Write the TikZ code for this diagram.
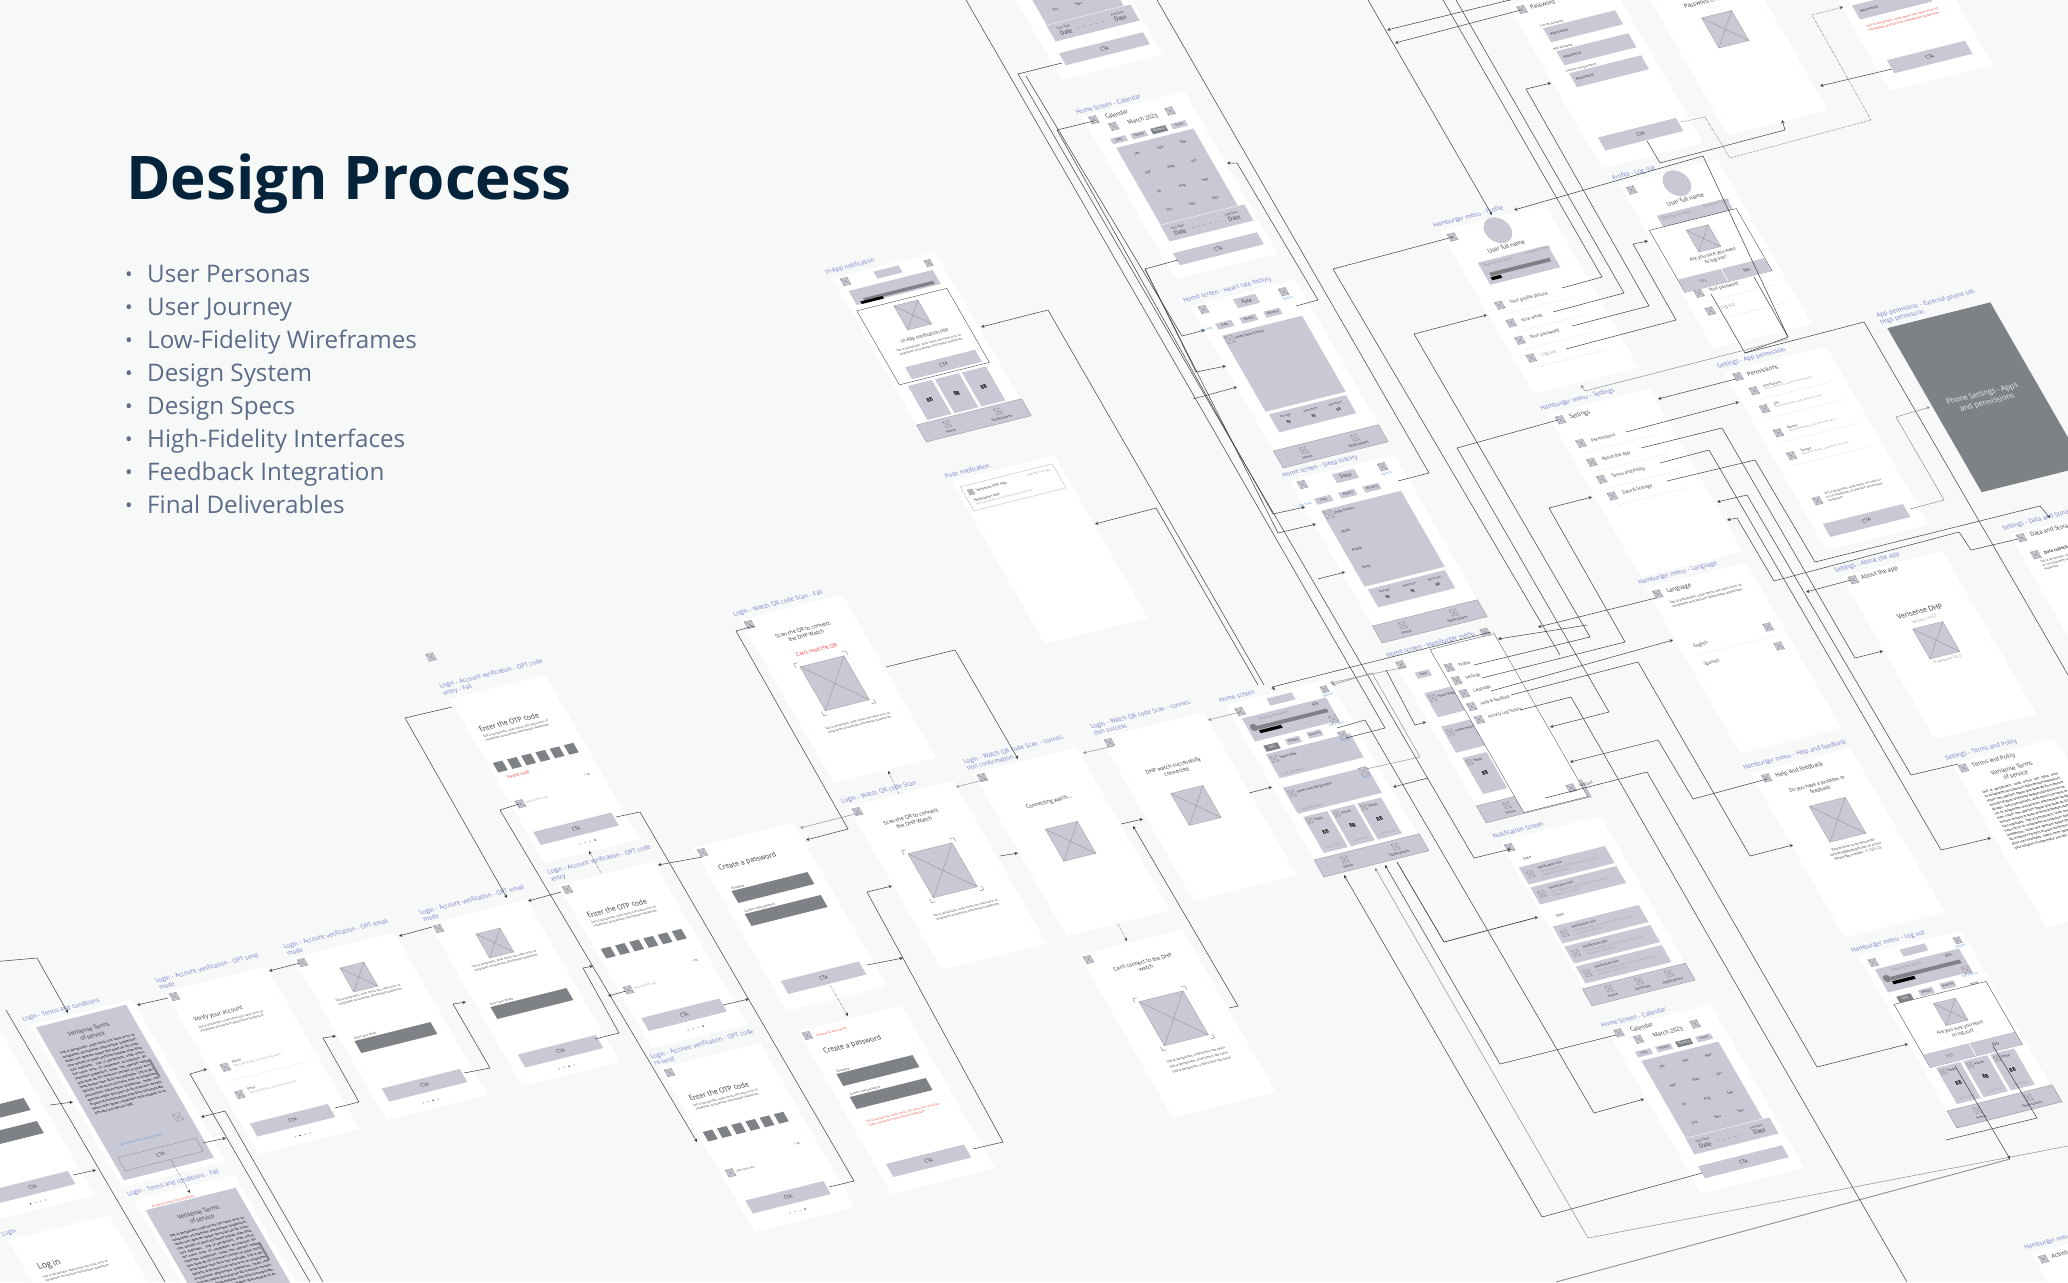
\documentclass[tikz,border=0pt]{standalone}
\usepackage{fontspec}
\setmainfont{Open Sans}
\usetikzlibrary{arrows.meta}
\definecolor{pagec}{HTML}{F7F9F8}
\definecolor{barc}{HTML}{C9C9D6}
\definecolor{darkc}{HTML}{7E8287}
\definecolor{labelc}{HTML}{7478CE}
\definecolor{redc}{HTML}{F0463E}
\definecolor{linkc}{HTML}{4F8FD8}
\definecolor{inkc}{HTML}{3A3B40}
\definecolor{titlec}{HTML}{05233A}
\definecolor{listc}{HTML}{5C6C88}
\definecolor{wirec}{HTML}{3C3F42}
\definecolor{wiregc}{HTML}{8C9093}
\tikzset{
  scrbox/.style ={fill=white, inner sep=0pt, transform shape},
  scrlbl/.style ={anchor=south west, inner sep=0pt, align=left, text width=106pt, text=labelc,
                  font=\fontsize{5.6}{6.6}\selectfont, transform shape},
  wfont/.style  ={anchor=west, inner sep=0pt, text=inkc, align=left,
                  font=\fontsize{3.4}{4.2}\selectfont, transform shape},
  ttl/.style    ={font=\fontsize{6.6}{8}\selectfont},
  hdr/.style    ={font=\fontsize{5.4}{6.6}\selectfont},
  mid/.style    ={anchor=center, align=center},
  red/.style    ={text=redc},
  lnk/.style    ={text=linkc},
  gry/.style    ={text=gray!80},
  wbar/.style   ={fill=barc, inner sep=0pt, anchor=center, text=inkc, align=center,
                  font=\fontsize{4.6}{5.6}\selectfont, transform shape},
  dark/.style   ={fill=darkc},
  nav/.style    ={draw=darkc, line width=.25pt},
  xbox/.style   ={fill=barc, draw=gray!90, line width=.2pt, inner sep=0pt, transform shape},
  xline/.style  ={draw=gray!90, line width=.3pt},
  brk/.style    ={draw=darkc, line width=.4pt},
  rowln/.style  ={draw=barc!60, line width=.25pt},
  dlgbox/.style ={fill=white, draw=wirec, line width=.35pt, inner sep=0pt, anchor=north west, transform shape},
  flow/.style   ={draw=wirec, line width=.5pt, -{Stealth[length=3.4pt,width=3.2pt]}},
  gflow/.style  ={draw=wiregc, line width=.5pt, -{Stealth[length=3.4pt,width=3.2pt]}},
  dflow/.style  ={draw=wirec, line width=.5pt, densely dotted, -{Stealth[length=3.4pt,width=3.2pt]}},
  noarr/.style  ={arrows=-},
}
\newcounter{nid}
\newcommand{\lorem}{Sed ut perspiciatis, unde omnis iste natus error sit voluptatem accusantium doloremque laudantium}
\newcommand{\denselorem}{\lorem, totam rem aperiam eaque ipsa quae ab illo inventore veritatis et quasi architecto beatae vitae dicta sunt explicabo. \lorem, totam rem aperiam eaque ipsa quae ab illo inventore veritatis et quasi architecto beatae vitae dicta sunt explicabo. \lorem, totam rem aperiam eaque ipsa quae ab illo inventore veritatis et quasi architecto beatae vitae dicta sunt explicabo. Nemo enim ipsam voluptatem quia voluptas sit aspernatur aut odit aut fugit.}
% one screen: name, x, y, width, height, label, body
\newcommand{\screen}[7]{%
  \begin{scope}[cm={1,.25,-.575,1,(#2,#3)}]
    \node[scrbox, anchor=north west, minimum width=#4pt, minimum height=#5pt] (#1) at (0,0) {};
    \node[scrlbl] (#1l) at (-3,-3) {#6};
    #7
  \end{scope}}
\newcommand{\wtxt}[4][]{\stepcounter{nid}\node[wfont,#1] (n\arabic{nid}) at ({#2},{#3}) {#4};}
\newcommand{\wbox}[6][]{\stepcounter{nid}\node[wbar,minimum width=#4pt,minimum height=#5pt,#1] (n\arabic{nid}) at ({#2},{#3}) {#6};}
\newcommand{\xb}[3][7]{\stepcounter{nid}\node[xbox,minimum width=#1pt,minimum height=#1pt] (n\arabic{nid}) at ({#2},{#3}) {};
  \draw[xline] (n\arabic{nid}.north west) -- (n\arabic{nid}.south east) (n\arabic{nid}.south west) -- (n\arabic{nid}.north east);}
\newcommand{\wpara}[4][]{\stepcounter{nid}\node[wfont,anchor=north west,text width=#4pt,font=\fontsize{2.7}{3.6}\selectfont,#1] (n\arabic{nid}) at ({#2},{#3}) {\lorem};}
\newcommand{\ctab}[2][51]{\wbox{#1}{#2}{78}{13}{CTA}}
\newcommand{\dotsrow}[2]{\foreach \i in {1,...,4}{\pgfmathsetmacro{\dc}{\i==#2?70:25}\fill[black!\dc] ({36+5*\i},#1) circle (.8pt);}}
\newcommand{\qrmarks}[3]{\foreach \sx/\sy in {-1/-1,1/-1,1/1,-1/1}
  \draw[brk] ({#1+\sx*#3},{#2+\sy*(#3-4)}) -- ({#1+\sx*#3},{#2+\sy*#3}) -- ({#1+\sx*(#3-4)},{#2+\sy*#3});}
\newcommand{\otpface}{\wtxt[ttl]{10}{33}{Enter the OTP code}\wpara{10}{39}{72}
  \foreach \i in {0,...,5}{\wbox[dark]{10+14.2*\i}{70}{9.5}{9.5}{}}
  \wtxt[font=\fontsize{2.6}{3}\selectfont]{79}{96}{1:30}}
\newcommand{\fieldface}[3]{\wtxt[font=\fontsize{2.8}{3}\selectfont]{13}{#1-8}{#3}\wbox[dark]{#2}{#1}{76}{12}{}}
\newcommand{\navbar}[2]{\wbox[nav]{#2/2}{#1+8.5}{#2}{17}{}\xb[6]{27}{#1+6}\wtxt[mid]{27}{#1+12.5}{Home}
  \xb[6]{#2-27}{#1+6}\wtxt[mid]{#2-27}{#1+12.5}{Notifications}}
\newcommand{\termsface}[1]{\wbox{50}{80+#1/2}{90}{153-#1}{}
  \wtxt[mid,hdr]{50}{20+#1}{Verisense Terms\\of service}
  \stepcounter{nid}\node[wfont,anchor=north west,text width=74pt,align=justify,font=\fontsize{3.1}{4.3}\selectfont,text=black] (n\arabic{nid}) at (13,{30+#1}) {\denselorem};
  \wbox[dark]{88}{65+#1}{2}{18}{}\xb{84}{113+#1}\wtxt[lnk,mid,font=\fontsize{2.6}{3}\selectfont]{40}{125+#1}{I agree to the Terms and Conditions}}
\newcommand{\rowitem}[4]{\xb{#1}{#2}\wtxt[hdr,font=\fontsize{4.2}{5}\selectfont,#4]{#1+10}{#2}{#3}\draw[rowln] (#1,#2+9) -- (#1+70,#2+9);}
\newcommand{\permrow}[2]{\xb{17}{#1}\wtxt[font=\fontsize{3}{3.6}\selectfont]{27}{#1-2}{#2}\wtxt[gry,font=\fontsize{2.4}{3}\selectfont]{27}{#1+1}{Sed ut perspiciatis, unde omnis iste natus}\draw[rowln] (14,#1+9) -- (90,#1+9);}
\newcommand{\dialog}[4]{\node[dlgbox,minimum width=#3pt,minimum height=#4pt] (dlg\arabic{nid}) at (#1,#2) {};
  \xb[22]{#1+#3/2}{#2+19}\wtxt[mid,font=\fontsize{4.4}{5.4}\selectfont]{#1+#3/2}{#2+38}{Are you sure you want\\to log out?}
  \wbox{#1+#3/4}{#2+#4-6}{#3/2-1}{13}{\textcolor{gray}{Yes}}\wbox{#1+3*#3/4}{#2+#4-6}{#3/2-1}{13}{No}}
\newcommand{\homeface}{\xb{10}{9}\wbox{52}{7}{25}{7}{}\xb[6]{95}{8}\wtxt[lnk,mid,font=\fontsize{2.8}{3}\selectfont]{95}{14}{Options}
  \wbox{50}{27}{84}{23}{}\wtxt[gry]{22}{20}{Wearing the watch}\wtxt[font=\fontsize{4}{5}\selectfont]{76}{19}{6hr}
  \wbox[dark]{52}{27}{70}{3.5}{}\wbox[fill=black]{28}{31}{22}{3}{}\fill[darkc] (14,26) circle (3.5pt);
  \xb{88}{36}\wtxt[lnk,mid,font=\fontsize{2.6}{3}\selectfont]{88}{41}{Pick a device}
  \wbox[dark,font=\fontsize{3}{4}\selectfont,text=white]{20}{47}{14}{6}{Daily}\wbox[font=\fontsize{3}{4}\selectfont]{42}{46}{14}{6}{Weekly}\wbox[font=\fontsize{3}{4}\selectfont]{64}{45}{14}{6}{Monthly}
  \wbox{53}{64}{84}{24}{}\xb[6]{16}{58}\wtxt{21}{58}{Heart Rate}\wtxt[gry]{15}{73}{Last 24 hours}\xb{88}{52}\wtxt[lnk,mid,font=\fontsize{2.6}{3}\selectfont]{88}{57}{History}
  \wbox{51}{98}{84}{26}{}\xb[6]{14}{92}\wtxt{19}{92}{Heart recordings data}\wtxt[gry]{14}{108}{Last 24 hours}\xb{88}{88}\wtxt[lnk,mid,font=\fontsize{2.6}{3}\selectfont]{88}{94}{History}
  \foreach \c/\t in {24/Steps,51/Active,78/Sleep}{\wbox{\c}{133}{24}{36}{}\xb[5]{\c-8}{120}\wtxt{\c-4}{120}{\t}\wtxt[mid,font=\fontsize{5}{6}\selectfont\bfseries,text=black]{\c}{133}{88}\wtxt[mid,gry,font=\fontsize{2.4}{3}\selectfont]{\c}{147}{Last 24 hours}}
  \navbar{155}{105}}
\newcommand{\histface}[2]{\xb{10}{6}\wbox{52}{8}{22}{9}{#1}\xb{89}{8}\wtxt[lnk,mid,font=\fontsize{2.8}{3}\selectfont]{89}{15}{Options}
  \foreach \c/\t in {21/Daily,45/Weekly,69/Monthly}{\wbox[font=\fontsize{3}{4}\selectfont]{\c}{24}{16}{6}{\t}}
  \wtxt[lnk,font=\fontsize{2.8}{3}\selectfont]{-4}{24}{Info Stack}
  \wbox{53}{71}{80}{76}{}\xb{18}{38}\wtxt{23}{38}{#2}
  \wbox{53}{121}{77}{18}{}\foreach \c/\t in {28/Average,53/Maximum,78/Minimum}{\wtxt[mid,font=\fontsize{2.8}{3.4}\selectfont]{\c}{117}{\t}\wtxt[mid,font=\fontsize{3.6}{4}\selectfont\bfseries]{\c}{123}{88}}
  \navbar{145}{105}}
\newcommand{\calface}{\xb{9}{5}\wtxt[hdr]{20}{5}{Calendar}\xb{23}{15}\wtxt[mid,hdr]{52}{15}{March 2023}\xb{80}{14}
  \foreach \c/\t in {21/Daily,41/Weekly,81/Yearly}{\wbox[font=\fontsize{3}{4}\selectfont]{\c}{28}{15}{5.5}{\t}}
  \wbox[dark,font=\fontsize{3}{4}\selectfont,text=white]{61}{28}{15}{5.5}{Monthly}
  \wbox{53}{73}{77}{77}{}
  \foreach \t/\c/\r in {Jan/30/44,Feb/53/44,Mar/76/44,Apr/30/63,May/53/63,Jun/76/63,Jul/30/82,Aug/53/82,Sep/76/82,Oct/30/100,Nov/53/100,Dec/76/100}{\wtxt[mid]{\c}{\r}{\t}}
  \wbox{56}{120}{84}{16}{}\wtxt[mid,font=\fontsize{2.8}{3.2}\selectfont]{28}{117}{Start Date}\wtxt[mid,hdr]{28}{122}{Date}\wtxt[mid,font=\fontsize{2.8}{3.2}\selectfont]{82}{117}{End Date}\wtxt[mid,hdr]{82}{122}{Date}\draw[brk,dashed,line width=.25pt] (40,121) -- (70,121);
  \wbox{53}{145}{84}{12}{CTA}}
\newcommand{\profileface}{\stepcounter{nid}\node[draw=none,fill=barc,circle,minimum size=25pt,inner sep=0pt,transform shape] (n\arabic{nid}) at (51,12) {};
  \wtxt[mid,hdr]{50}{28}{User full name}\wbox{52}{47}{70}{22}{}\wtxt[gry]{20}{40}{Wearing the watch}\wtxt[gry]{62}{38}{Connected Time}
  \wbox[dark]{52}{49}{60}{3.5}{}\wbox[fill=black]{26}{53}{10}{3}{}
  \rowitem{15}{78}{Your profile picture}{}\rowitem{16}{96}{Your email}{}\rowitem{15}{113}{Your password}{}\rowitem{16}{131}{Log out}{gry}}
% ---- connector: start, end, what lies between
\newcommand{\conn}[4][]{\stepcounter{nid}\coordinate (c\arabic{nid}s) at (#2);\coordinate (c\arabic{nid}e) at (#3);
  \draw[flow,#1] (c\arabic{nid}s) #4 (c\arabic{nid}e);}

\begin{document}
\begin{tikzpicture}[x=1pt,y=-1pt]
\useasboundingbox (0,0) rectangle (2068,1282);
\fill[pagec] (0,0) rectangle (2068,1282);

% ---- heading --------------------------------------------------------
\node[anchor=base west, inner sep=0pt, text=titlec, font=\fontsize{60.2}{70}\selectfont\bfseries] (head) at (126,199) {Design Process};
\foreach \lab [count=\i] in {User Personas,User Journey,Low-Fidelity Wireframes,Design System,Design Specs,High-Fidelity Interfaces,Feedback Integration,Final Deliverables}{
  \node[anchor=base west, inner sep=0pt, text=listc, font=\fontsize{24.2}{30}\selectfont] (item\i) at (147,{282+33*(\i-1)}) {\lab};
  \node[anchor=base, inner sep=0pt, text=listc, font=\fontsize{20}{24}\selectfont] (dot\i) at (129,{281+33*(\i-1)}) {•};
}

\begin{scope}
\clip (0,0) rectangle (2068,1282);

% ---- login flow ------------------------------------------------------
\screen{carousel}{-100}{1058}{101}{162}{}{\fieldface{68}{50}{Email}\fieldface{91}{50}{Password}\ctab{142}\dotsrow{156}{1}}
\screen{login}{8}{1240}{101}{162}{Login}{\wtxt[ttl,font=\fontsize{8}{9}\selectfont]{12}{31}{Log in}\wpara{12}{39}{72}}
\screen{terms}{29}{1025}{103}{162}{Login - Terms and conditions}{\termsface{0}\wbox[fill=none,draw=darkc,line width=.25pt]{50}{142}{78}{13}{CTA}}
\screen{termsfail}{134}{1200}{100}{163}{Login - Terms and conditions - Fail}{\termsface{8}\wtxt[red,font=\fontsize{2.8}{3}\selectfont]{12}{10}{Accept the terms and conditions}}
\screen{otpsend}{165}{992}{101}{162}{Login - Account verification - OPT send mode}{\xb{6}{6}\wtxt[hdr]{11}{31}{Verify your account}\wpara{11}{37}{72}
  \xb{15}{79}\wtxt[font=\fontsize{3}{3.6}\selectfont]{23}{76}{Phone}\wtxt[gry,font=\fontsize{2.4}{3}\selectfont]{23}{80}{Sed ut perspiciatis, unde omnis iste natus}\draw[rowln] (12,92) -- (88,92);
  \xb{14}{106}\wtxt[font=\fontsize{3}{3.6}\selectfont]{23}{103}{Email}\wtxt[gry,font=\fontsize{2.4}{3}\selectfont]{23}{107}{Sed ut perspiciatis, unde omnis iste natus}\ctab[47]{140}\dotsrow{155}{2}}
\screen{emailsend}{293}{958}{101}{162}{Login - Account verification - OPT email mode}{\xb{6}{6}\xb[24]{48}{31}\wpara[mid,text width=70pt]{48}{49}{70}\fieldface{92}{50}{Enter your email}\ctab{140}\dotsrow{155}{3}}
\screen{mode}{429}{924}{97}{162}{Login - Account verification - OPT email mode}{\xb{6}{6}\xb[24]{48}{31}\wpara[mid,text width=70pt]{48}{49}{70}\fieldface{92}{50}{Enter your phone}\ctab{140}\dotsrow{155}{3}}
\screen{otpfail}{450}{699}{95}{164}{Login - Account verification - OPT code entry - Fail}{\otpface\wtxt[red,font=\fontsize{4}{5}\selectfont]{10}{81}{Invalid code}\xb{9}{107}\wtxt[gry,font=\fontsize{2.6}{3}\selectfont]{15}{107}{Resend OTP code}\ctab[45]{141}\dotsrow{155}{4}}
\screen{otp}{558}{885}{95}{163}{Login - Account verification - OPT code entry}{\xb{6}{6}\otpface\xb{9}{107}\wtxt[gry,font=\fontsize{2.6}{3}\selectfont]{15}{107}{Resend OTP code}\ctab[45]{141}\dotsrow{155}{4}}
\screen{otpresend}{660}{1068}{100}{164}{Login - Account verification - OPT code re-send}{\xb{6}{6}\otpface\xb{9}{107}\wtxt[font=\fontsize{2.6}{3}\selectfont]{15}{107}{OTP code sent}\ctab[47]{141}\dotsrow{155}{4}}
\screen{create}{693}{848}{100}{163}{}{\xb{6}{6}\wtxt[ttl]{12}{24}{Create a password}\fieldface{52}{50}{Password}\fieldface{75}{50}{Confirm new password}\ctab[49]{142}}
\screen{createfail}{798}{1031}{103}{163}{}{\xb{6}{6}\wtxt[red,font=\fontsize{2.8}{3}\selectfont]{14}{8}{Passwords don't match}\wtxt[ttl]{12}{24}{Create a password}\fieldface{52}{50}{Password}\fieldface{75}{50}{Confirm new password}
  \wpara[red]{14}{93}{74}\ctab[49]{142}}
\screen{qrfail}{740}{620}{102}{163}{Login - Watch QR code Scan - Fail}{\xb{6}{6}\wtxt[mid,font=\fontsize{5}{6}\selectfont]{50}{25}{Scan the QR to connect\\the DHP Watch}\wtxt[mid,red,font=\fontsize{5}{6}\selectfont]{52}{43}{Can't read the QR}\xb[44]{51}{76}\qrmarks{51}{76}{26}\wpara[mid,text width=70pt]{52}{116}{70}}
\screen{qrscan}{848}{807}{105}{163}{Login - Watch QR code Scan}{\xb{6}{6}\wtxt[mid,font=\fontsize{5}{6}\selectfont]{50}{25}{Scan the QR to connect\\the DHP Watch}\xb[44]{51}{76}\qrmarks{51}{76}{26}\wpara[mid,text width=70pt]{52}{116}{70}}
\screen{connecting}{973}{773}{103}{163}{Login - Watch QR code Scan - connection confirmation}{\xb{6}{6}\wtxt[mid,font=\fontsize{5}{6}\selectfont]{52}{42}{Connecting watch...}\xb[32]{51}{81}}
\screen{success}{1100}{738}{103}{163}{Login - Watch QR code Scan - connection success}{\xb{6}{6}\wtxt[mid,font=\fontsize{5}{6}\selectfont]{50}{43}{DHP watch successfully\\connected}\xb[32]{50}{80}}
\screen{cantconnect}{1079}{955}{103}{163}{}{\xb{6}{6}\wtxt[mid,font=\fontsize{5}{6}\selectfont]{52}{23}{Can't connect to the DHP\\watch}\xb[44]{51}{76}\qrmarks{51}{76}{26}\wtxt[mid,font=\fontsize{3}{5}\selectfont]{52}{118}{Sed ut perspiciatis, unde omnis iste natus\\Sed ut perspiciatis, unde omnis iste natus\\Sed ut perspiciatis, unde omnis iste natus}}
\scope[cm={1,.25,-.575,1,(431,657)}]\xb{0}{0}\endscope

% ---- home screens ----------------------------------------------------
\screen{calendarm}{968}{-83}{101}{163}{Home Screen - Calendar}{\calface}
\screen{calendar}{1082}{117}{102}{162}{Home Screen - Calendar}{\calface}
\screen{inapp}{832}{278}{103}{163}{In-App notification}{\xb{10}{6}\wbox{52}{7}{25}{7}{}\xb[6]{92}{8}\wbox{50}{22}{84}{14}{}
  \wbox[dark]{52}{26}{70}{3}{}\wbox[fill=black]{24}{28}{22}{2.5}{}
  \foreach \c in {24,51,78}{\wbox{\c}{128}{24}{34}{}\wtxt[mid,font=\fontsize{5}{6}\selectfont\bfseries,text=black]{\c}{128}{88}}\navbar{147}{105}
  \node[dlgbox,minimum width=90pt,minimum height=74pt] (inappd) at (5,34) {};\xb[24]{52}{50}\wtxt[mid,font=\fontsize{4.4}{5.4}\selectfont]{52}{71}{In-App notification title}\wpara[mid,text width=66pt]{52}{80}{66}\wbox{54}{100}{70}{12}{CTA}}
\screen{push}{951}{481}{103}{163}{Push notification}{\node[dlgbox,draw=gray!70,line width=.25pt,minimum width=92pt,minimum height=24pt] (pushc) at (5,7) {};\xb[5]{12}{14}\wtxt{17}{14}{Verisense DHP App}\wtxt[gry,font=\fontsize{2.6}{3}\selectfont]{68}{12}{12:30 PM, 5 sec ago}\wtxt{10}{22}{Notification title}\wtxt[gry,font=\fontsize{2.4}{3}\selectfont]{10}{26}{Sed ut perspiciatis, unde omnis iste natus error sit}}
\screen{heart}{1190}{306}{105}{162}{Home screen - Heart rate history}{\histface{Rate}{Heart Rate history}}
\screen{sleep}{1289}{481}{105}{162}{Home screen - Sleep history}{\histface{Sleep}{Sleep history}\wtxt{20}{56}{Wake}\wtxt{20}{74}{Awake}\wtxt{20}{92}{Deep}}
\screen{home}{1225}{705}{103}{168}{Home screen}{\homeface}
\screen{hamburger}{1393}{661}{103}{163}{Home screen - Hamburger menu}{\wbox[font=\fontsize{3}{4}\selectfont]{20}{18}{14}{6}{Daily}\xb{5}{5}
  \wbox{53}{47}{84}{24}{}\xb[6]{16}{41}\wtxt{21}{41}{Heart Rate}\wbox{51}{81}{84}{26}{}\xb[6]{14}{75}\wtxt{19}{75}{Heart recordings}
  \wbox{24}{118}{24}{36}{}\xb[5]{16}{105}\wtxt{20}{105}{Steps}\wtxt[mid,font=\fontsize{5}{6}\selectfont\bfseries,text=black]{24}{118}{88}
  \navbar{145}{105}
  \node[dlgbox,line width=.3pt,minimum width=64pt,minimum height=163pt] (drawer) at (38,-2) {};
  \xb{95}{-5}\foreach \r/\t in {18/Profile,31/Settings,44/Language,57/Help \& feedback,70/Activity Log history}{\xb{46}{\r}\wtxt[font=\fontsize{3.8}{4.6}\selectfont]{55}{\r}{\t}}
  \xb{92}{150}\wtxt[font=\fontsize{3.8}{4.6}\selectfont]{100}{150}{Log out}}
\screen{notif}{1499}{841}{101}{165}{Notification Screen}{\xb{6}{8}\wtxt{12}{21}{Date}
  \foreach \r in {36,56,95,115,135}{\wbox{47}{\r}{86}{17}{}\xb[6]{11}{\r}\wtxt[font=\fontsize{3.2}{4}\selectfont]{20}{\r-4}{Notification title}\wtxt[gry,font=\fontsize{2.4}{3.2}\selectfont,text width=60pt]{20}{\r+2}{Sed ut perspiciatis, unde omnis iste natus error sit voluptatem accusantium}}
  \wtxt{12}{78}{Date}\wbox[nav]{50}{156}{103}{17}{}\foreach \c/\t in {22/Home,52/Summary,82/Notifications}{\xb[6]{\c}{153}\wtxt[mid]{\c}{160}{\t}}}
\screen{calendarb}{1607}{1030}{103}{163}{Home Screen - Calendar}{\calface}
\screen{logoutm}{1858}{956}{103}{168}{Hamburger menu - Log out}{\homeface\dialog{7}{50}{92}{63}}
\screen{hamlast}{2031}{1253}{100}{163}{Hamburger menu - Activity}{\xb{8}{8}\wtxt[hdr]{16}{8}{Activity}}

% ---- profile and settings --------------------------------------------
\screen{password}{1508}{5}{101}{163}{Profile - Password}{\xb{10}{7}\wtxt[hdr]{18}{7}{Password}
  \foreach \r/\t in {35/Current password,58/New password,80/Confirm new password}{\wtxt[font=\fontsize{2.8}{3}\selectfont]{17}{\r-9}{\t}\wbox{55}{\r}{72}{14}{}\wtxt{22}{\r}{\#password}}\ctab{142}}
\screen{pwchanged}{1634}{-28}{100}{163}{}{\wtxt[mid,hdr]{50}{42}{Password changed}\xb[30]{51}{70}}
\screen{pwfail}{1796}{-72}{103}{163}{}{\foreach \r in {42,65,87}{\wbox{46}{\r}{72}{14}{}\wtxt{14}{\r}{\#password}}\wpara[red,font=\fontsize{3}{3.9}\selectfont]{12}{100}{74}\ctab[52]{142}}
\screen{profile}{1440}{231}{105}{163}{Hamburger menu - Profile}{\xb{8}{8}\profileface}
\screen{profilelog}{1619}{184}{98}{164}{Profile - Log out}{\xb{8}{8}\profileface\dialog{3}{47}{87}{62}}
\screen{settings}{1547}{414}{102}{163}{Hamburger menu - Settings}{\xb{9}{8}\wtxt[hdr]{18}{8}{Settings}\rowitem{15}{33}{Permissions}{}\rowitem{15}{52}{About the app}{}\rowitem{15}{69}{Terms and Policy}{}\rowitem{16}{86}{Data \& Storage}{}}
\screen{permissions}{1724}{372}{102}{178}{Settings - App permission}{\xb{10}{7}\wtxt[hdr]{19}{7}{Permissions}\permrow{23}{Notifications}\permrow{41}{GPS}\permrow{65}{Battery}\permrow{88}{Storage}\xb{17}{133}\wpara{26}{127}{58}\wbox{50}{161}{80}{13}{CTA}}
\screen{phone}{1887}{328}{103}{164}{App permission - External phone settings permission}{\wbox[dark,anchor=north west,minimum width=103pt,minimum height=164pt]{0}{0}{103}{164}{}\wtxt[mid,font=\fontsize{7}{8.6}\selectfont,text=white!85!darkc]{50}{83}{Phone Settings - Apps\\and permissions}}
\screen{language}{1645}{588}{101}{165}{Hamburger menu - Language}{\xb{8}{8}\wtxt[hdr]{17}{8}{Language}\wpara[font=\fontsize{3}{3.9}\selectfont]{14}{17}{72}\wtxt[font=\fontsize{4.2}{5}\selectfont]{13}{62}{English}\xb{88}{61}\draw[rowln] (12,70) -- (92,70);\wtxt[font=\fontsize{4.2}{5}\selectfont]{13}{80}{Spanish}\xb{88}{80}}
\screen{about}{1841}{576}{101}{163}{Settings - About the app}{\xb{9}{6}\wtxt[hdr]{17}{6}{About the app}\wtxt[mid,ttl]{51}{48}{Verisense DHP}\wtxt[mid,gry]{51}{56}{Version 1.23.67}\xb[30]{51}{77}\wtxt[mid,gry]{51}{96}{© Verisense 2023}}
\screen{datast}{2009}{534}{100}{163}{Settings - Data and Storage}{\xb{9}{6}\wtxt[hdr]{18}{6}{Data and Storage}\xb{13}{24}\wtxt[font=\fontsize{3.8}{4.6}\selectfont\bfseries]{21}{24}{Data collection}\wpara{13}{30}{60}}
\screen{help}{1750}{773}{100}{164}{Hamburger menu - Help and feedback}{\xb{12}{8}\wtxt[hdr]{21}{8}{Help and feedback}\wtxt[mid,font=\fontsize{4.6}{5.6}\selectfont]{53}{27}{Do you have a problem or\\feedback}\xb[36]{53}{60}\wtxt[mid,font=\fontsize{3.2}{4.2}\selectfont]{54}{90}{Please write us on this email:\\verisense@example.com or at this\\WhatsApp number: +1 123 123}}
\screen{policy}{1952}{764}{103}{163}{Settings - Terms and Policy}{\xb{8}{6}\wtxt[hdr]{17}{6}{Terms and Policy}\wtxt[mid,hdr]{50}{20}{Verisense Terms\\of service}\stepcounter{nid}\node[wfont,anchor=north west,text width=76pt,align=justify,font=\fontsize{3.1}{4.3}\selectfont,text=black] (n\arabic{nid}) at (12,30) {\denselorem};}

% ---- connectors, login ------------------------------------------------
\conn{452,707}{507,898}{-- (405,718) --}
\conn{519,804}{697,1142}{-- (500,810) --}
\conn[noarr]{829,1187}{616,817}{-- (854,1181) -- (640,812) --}
\conn[dflow]{601,873}{589,851}{--}
\conn{561,892}{528,901}{--}
\conn{432,927}{399,936}{--}
\conn{595,1039}{593,966}{-- (619,1033) -- (583,968) --}
\conn{626,991}{608,996}{--}
\conn{723,1005}{749,999}{--}
\conn{702,857}{658,865}{--}
\conn[gflow]{859,813}{800,828}{--}
\conn{754,626}{806,840}{-- (736,631) -- (848,829) --}
\conn{867,965}{903,958}{--}
\conn{973,1149}{892,886}{-- (1003,1142) -- (867,892) --}
\conn[dflow]{830,985}{848,1016}{--}
\conn{886,667}{1018,759}{-- (955,650) --}
\conn[dflow]{899,794}{888,771}{--}
\conn[gflow]{987,779}{956,787}{--}
\conn{-20,963}{68,1013}{-- (37,958) --}
\conn{168,998}{137,1005}{--}
\conn{300,963}{269,971}{--}
\conn{335,1108}{336,1036}{-- (359,1102) -- (323,1038) --}
\conn{464,1073}{466,1002}{-- (490,1068) -- (453,1004) --}
\conn{203,1143}{226,1138}{--}
\conn{323,1282}{201,1117}{-- (225,1111) --}
\conn{310,1282}{207,1069}{-- (190,1074) --}
\conn[dflow]{171,1160}{190,1193}{--}
\conn{73,1175}{96,1170}{--}
\conn[noarr]{6,1010}{165,1282}{--}
\conn{50,1105}{73,1102}{--}
\conn[gflow]{1114,746}{1083,753}{--}
\conn{1249,793}{1272,787}{--}
\conn{1121,824}{1143,819}{--}
\conn{1229,1008}{1133,826}{-- (1238,1006) --}
\conn[dflow]{1118,924}{1127,941}{--}
\conn{1000,856}{1018,853}{--}
\conn[gflow]{1240,712}{1208,720}{--}

% ---- connectors, home -------------------------------------------------
\conn{1062,63}{1511,849}{-- (1018,74) -- (1474,858) --}
\conn{1094,121}{1305,507}{-- (1057,130) -- (1273,514) --}
\conn{1178,260}{1226,366}{-- (1145,269) -- (1196,372) --}
\conn{1145,269}{1316,524}{-- (1278,533) --}
\conn{1026,76}{1205,330}{-- (1182,336) --}
\conn{1193,399}{1237,387}{--}
\conn[noarr]{966,0}{1346,738}{-- (1385,728) --}
\conn{1337,728}{1644,1099}{-- (1365,720) -- (1594,1113) --}
\conn{1318,579}{1345,572}{--}
\conn{1296,306}{1227,163}{-- (1318,300) -- (1237,163) --}
\conn[noarr]{1398,481}{1157,0}{-- (1429,473) --}
\conn{1264,685}{981,327}{-- (1048,310) --}
\conn{1258,685}{1095,524}{-- (1156,508) --}
\conn[gflow]{1405,667}{1330,683}{--}
\conn[gflow]{1366,769}{1332,685}{-- (1420,757) -- (1372,673) --}
\conn{1386,670}{1426,722}{-- (1415,725) --}
\conn{1491,632}{1275,690}{-- (1272,687) --}
\conn{1428,778}{1393,787}{--}
\conn{1702,1173}{1344,875}{-- (1542,1217) --}
\conn[gflow]{2068,1146}{1375,868}{-- (1588,1238) --}
\conn{1616,1035}{1385,865}{-- (1500,1064) --}
\conn[line width=.7pt]{1397,862}{1538,917}{-- (1444,942) --}
\conn[gflow,line width=.9pt,noarr]{1556,1282}{2010,1159}{--}

% ---- connectors, drawer and profile -----------------------------------
\conn{1368,0}{1492,215}{--}
\conn{1474,665}{1487,315}{-- (1590,637) -- (1414,334) --}
\conn[noarr]{1453,237}{1560,655}{-- (1333,269) --}
\conn{1482,678}{1592,497}{-- (1625,642) -- (1549,508) --}
\conn{1491,691}{1673,640}{--}
\conn{1511,695}{1793,845}{-- (1638,662) -- (1750,856) --}
\conn[noarr]{1520,710}{1907,1282}{-- (1571,697) --}
\conn{1545,798}{1908,1044}{-- (1647,772) -- (1817,1067) --}
\conn{1558,420}{1550,727}{-- (1457,448) -- (1609,712) --}
\conn{1767,779}{1570,762}{-- (1693,799) -- (1658,740) --}
\conn[noarr]{1562,288}{1443,0}{-- (1602,277) --}
\conn[noarr]{1553,312}{1456,0}{-- (1624,293) --}
\conn{1572,326}{1551,83}{-- (1649,306) -- (1526,89) --}
\conn{1566,349}{1648,241}{-- (1676,320) -- (1633,244) --}
\conn{1711,294}{1514,210}{-- (1745,353) -- (1788,337) -- (1703,156) --}
\conn[noarr]{1754,277}{1788,337}{--}
\conn[gflow]{1788,339}{1581,385}{-- (1585,391) --}
\conn[noarr]{1745,353}{2068,675}{-- (1864,322) --}
\conn{1647,141}{1782,120}{-- (1660,163) -- (1785,130) --}
\conn[dflow]{1681,122}{1843,7}{-- (1705,117) -- (1730,158) -- (1871,120) -- (1812,15) --}
\conn{1892,69}{1820,86}{--}
\conn{1510,0}{1387,30}{--}
\conn{1521,10}{1395,43}{--}

% ---- connectors, settings ---------------------------------------------
\conn{1626,432}{1739,402}{--}
\conn{1736,379}{1658,399}{--}
\conn{1641,448}{1883,651}{-- (1722,428) -- (1855,658) --}
\conn{1660,463}{1991,838}{-- (1709,450) -- (1941,850) --}
\conn{1667,481}{2050,518}{-- (1755,460) -- (1815,562) -- (2040,506) --}
\conn{2018,539}{1727,520}{-- (1971,550) -- (1959,532) -- (1774,581) -- (1737,518) --}
\conn{1958,764}{1717,502}{-- (1911,775) -- (1747,495) --}
\conn{1851,580}{1806,592}{--}
\conn[gflow]{1910,509}{1930,407}{-- (1944,500) -- (1896,417) --}
\conn{1656,598}{1538,627}{--}
\conn{1587,625}{1498,639}{--}
\conn{1955,1066}{2010,1159}{--}
\conn[noarr]{1993,1046}{1946,1140}{-- (2037,1118) --}
\end{scope}
\end{tikzpicture}
\end{document}
